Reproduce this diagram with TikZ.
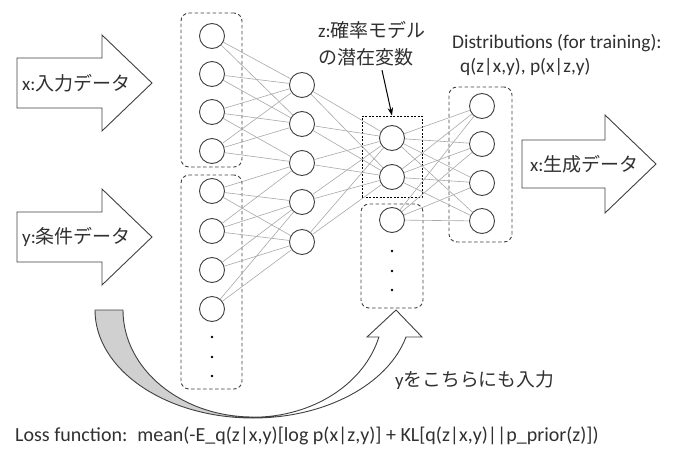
\documentclass[tikz,border=0pt]{standalone}
\usepackage{fontspec}
\setmainfont{Carlito}
\newfontfamily\jp{Noto Sans CJK JP}
\usetikzlibrary{calc,arrows.meta}
\definecolor{ln}{HTML}{404040}
\definecolor{edgec}{HTML}{A8A8A8}
\definecolor{txt}{HTML}{303030}
\definecolor{crescent}{HTML}{D0D0D0}
\tikzset{
  neuron/.style={circle, draw=ln, line width=0.9pt, fill=white, minimum size=25pt, inner sep=0pt},
  conn/.style={draw=edgec, line width=0.6pt},
  dbox/.style={draw=ln, dash pattern=on 3.5pt off 2.5pt, rounded corners=8pt, line width=0.9pt, inner sep=0pt},
  zboxst/.style={draw=black, dash pattern=on 2pt off 1.5pt, line width=0.8pt, inner sep=0pt},
  bigarrow/.style={draw=ln, fill=white, line width=0.9pt, line join=miter},
  dotn/.style={circle, fill=black, minimum size=2.8pt, inner sep=0pt},
  lbl/.style={text=txt, inner sep=0pt, anchor=west},
}
\begin{document}
\begin{tikzpicture}[x=1pt, y=-1pt]
\useasboundingbox (0,0) rectangle (674,452);

% dashed group boxes
\node[dbox, minimum width=61pt, minimum height=154pt] (inA) at (211.5,90) {};
\node[dbox, minimum width=61pt, minimum height=214pt] (inB) at (211.5,282) {};
\node[zboxst, minimum width=60pt, minimum height=81pt] (zbox) at (392,156.5) {};
\node[dbox, minimum width=62pt, minimum height=104pt] (zB) at (392,256) {};
\node[dbox, minimum width=63pt, minimum height=155pt] (outbox) at (480.5,164.5) {};

% neurons
\foreach \i/\y in {1/36,2/74,3/112,4/151,5/191,6/231,7/270,8/309}
  \node[neuron] (I\i) at (212,\y) {};
\foreach \i/\y in {1/85,2/124,3/163,4/202,5/242}
  \node[neuron] (H\i) at (302,\y) {};
\foreach \i/\y in {1/138,2/177,3/220}
  \node[neuron] (Z\i) at (392,\y) {};
\foreach \i/\y in {1/106,2/144,3/183,4/221}
  \node[neuron] (O\i) at (482,\y) {};

% dots
\foreach \i/\y in {1/337,2/357,3/376}
  \node[dotn] (di\i) at (212,\y) {};
\foreach \i/\y in {1/251,2/271,3/290}
  \node[dotn] (dz\i) at (392,\y) {};

% connections
\foreach \a/\b in {1/1,1/2,2/1,2/2,3/1,3/2,3/3,4/1,4/2,4/3,5/3,5/4,5/5,6/3,6/4,6/5,7/4,7/5,8/4,8/5}
  \draw[conn] (I\a) -- (H\b);
\foreach \a in {1,...,5}
  \foreach \b in {1,2}
    \draw[conn] (H\a) -- (Z\b);
\foreach \a in {1,2,3}
  \foreach \b in {1,...,4}
    \draw[conn] (Z\a) -- (O\b);

% big block arrows
\draw[bigarrow] (17,58) -- (102,58) -- (102,35) -- (152,83) -- (102,131) -- (102,108) -- (17,108) -- cycle;
\draw[bigarrow] (17,212) -- (102,212) -- (102,189) -- (152,237) -- (102,285) -- (102,262) -- (17,262) -- cycle;
\draw[bigarrow] (522,140) -- (605,140) -- (605,115) -- (656,164) -- (605,213) -- (605,188) -- (522,188) -- cycle;
\node[lbl, font=\fontsize{19}{22}\selectfont] (xin) at (22,83) {x:{\jp 入力データ}};
\node[lbl, font=\fontsize{19}{22}\selectfont] (yin) at (22,237) {y:{\jp 条件データ}};
\node[lbl, font=\fontsize{19}{22}\selectfont] (xout) at (530,164) {x:{\jp 生成データ}};

% curved arrow
\draw[draw=ln, fill=crescent, line width=0.9pt]
  (95,310) arc[start angle=180, end angle=90, x radius=158, y radius=108]
  -- (253,417) arc[start angle=90, end angle=180, x radius=130, y radius=107] -- cycle;
\draw[draw=ln, fill=white, line width=0.9pt, line join=miter]
  (253,418) arc[start angle=90, end angle=14.5, x radius=158, y radius=108]
  -- (422,337) -- (396,310) -- (367,337) -- (378.9,337)
  arc[start angle=14.5, end angle=90, x radius=130, y radius=107] -- cycle;

% labels
\node[text=txt, inner sep=0pt, align=left, anchor=north west, font=\fontsize{19}{27}\selectfont] (zl) at (318,21) {z:{\jp 確率モデル}\\{\jp の潜在変数}};
\draw[-{Stealth[length=8pt,width=5.5pt]}, line width=1pt, black] ($(zl.south)+(10,4)$) -- (zbox.north);
\node[lbl, align=left, font=\fontsize{19.4}{24}\selectfont] (dist) at (452,55) {Distributions (for training):\\\hspace{8pt}q(z|x,y), p(x|z,y)};
\node[lbl, font=\fontsize{18.8}{22}\selectfont] (ylab) at (395,380) {y{\jp をこちらにも入力}};
\node[lbl, font=\fontsize{20}{22}\selectfont] (loss) at (15,436) {Loss function:\hspace{10pt}mean(-E\_q(z|x,y)[log p(x|z,y)] + KL[q(z|x,y)||p\_prior(z)])};
\end{tikzpicture}
\end{document}
